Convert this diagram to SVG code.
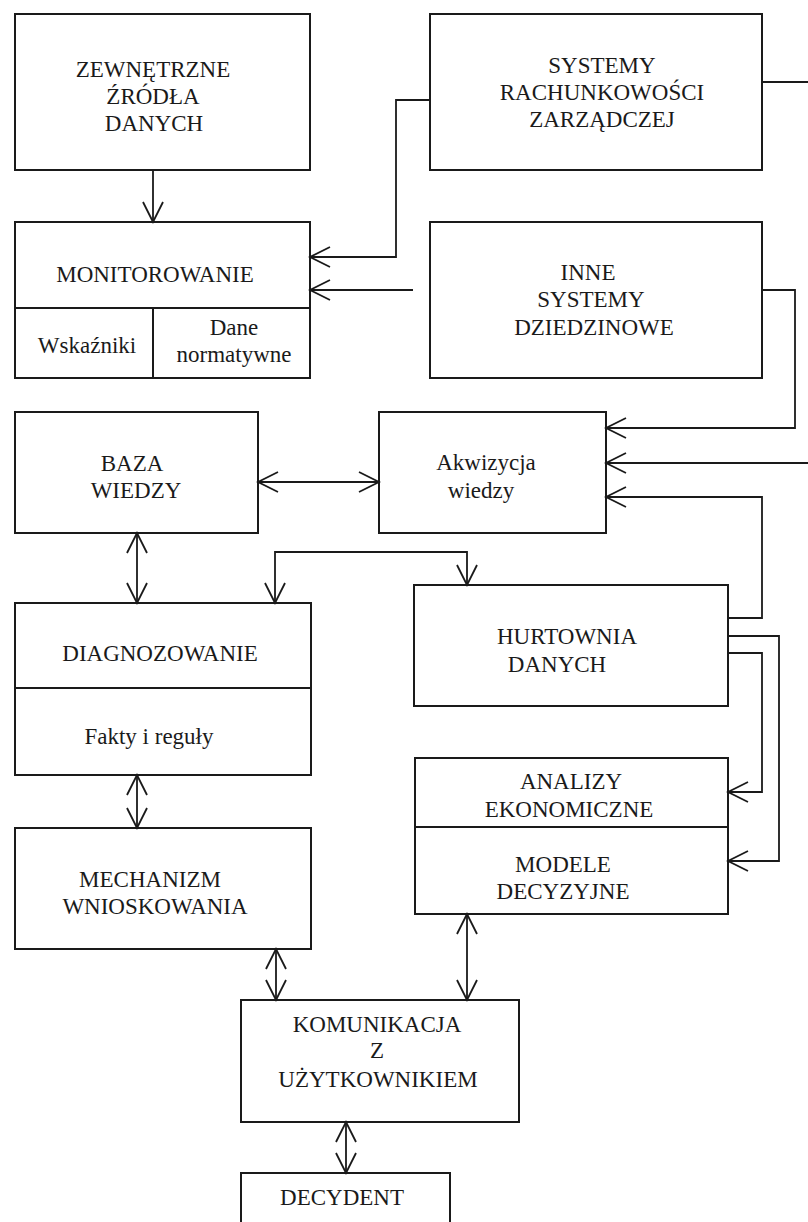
<svg xmlns="http://www.w3.org/2000/svg" width="808" height="1222" viewBox="0 0 808 1222" font-family="Liberation Serif, Times New Roman, DejaVu Serif, serif">
<style>
.box{fill:#fff;stroke:#1a1a1a;stroke-width:2}
.div{fill:none;stroke:#1a1a1a;stroke-width:2}
.t{font-size:23px;fill:#1a1a1a;text-anchor:middle}
.c{fill:none;stroke:#1a1a1a;stroke-width:1.8}
.one{marker-end:url(#ah)}
.two{marker-start:url(#ah);marker-end:url(#ah)}
</style>
<defs>
<marker id="ah" viewBox="-23 -12 25 24" refX="0" refY="0" markerWidth="25" markerHeight="24" markerUnits="userSpaceOnUse" orient="auto-start-reverse">
<path d="M-20,-10 L0,0 L-20,10" fill="none" stroke="#1a1a1a" stroke-width="1.8"/>
</marker>
</defs>
<rect width="808" height="1222" fill="#fff"/>

<g id="zewnetrzne">
<rect class="box" x="15" y="14" width="295" height="156"/>
<text class="t" x="153" y="77" font-family="Liberation Serif, serif">ZEWNĘTRZNE</text>
<text class="t" x="153" y="104">ŹRÓDŁA</text>
<text class="t" x="154" y="131">DANYCH</text>
</g>

<g id="systemy-rachunkowosci">
<rect class="box" x="430" y="14" width="332" height="156"/>
<text class="t" x="602" y="73">SYSTEMY</text>
<text class="t" x="602" y="100">RACHUNKOWOŚCI</text>
<text class="t" x="602" y="127">ZARZĄDCZEJ</text>
</g>

<g id="monitorowanie">
<rect class="box" x="15" y="222" width="295" height="156"/>
<line class="div" x1="15" y1="308" x2="310" y2="308"/>
<line class="div" x1="153" y1="308" x2="153" y2="378"/>
<text class="t" x="155" y="282">MONITOROWANIE</text>
<text class="t" x="87" y="353">Wskaźniki</text>
<text class="t" x="234" y="335">Dane</text>
<text class="t" x="234" y="362">normatywne</text>
</g>

<g id="inne-systemy">
<rect class="box" x="430" y="222" width="332" height="156"/>
<text class="t" x="588" y="280">INNE</text>
<text class="t" x="591" y="307">SYSTEMY</text>
<text class="t" x="594" y="335">DZIEDZINOWE</text>
</g>

<g id="baza-wiedzy">
<rect class="box" x="15" y="412" width="243" height="121"/>
<text class="t" x="132" y="471">BAZA</text>
<text class="t" x="136" y="498">WIEDZY</text>
</g>

<g id="akwizycja">
<rect class="box" x="379" y="412" width="227" height="121"/>
<text class="t" x="486" y="470">Akwizycja</text>
<text class="t" x="481" y="498">wiedzy</text>
</g>

<g id="diagnozowanie">
<rect class="box" x="15" y="603" width="296" height="172"/>
<line class="div" x1="15" y1="688" x2="311" y2="688"/>
<text class="t" x="160" y="661">DIAGNOZOWANIE</text>
<text class="t" x="149" y="744">Fakty i reguły</text>
</g>

<g id="hurtownia">
<rect class="box" x="414" y="585" width="314" height="121"/>
<text class="t" x="567" y="644">HURTOWNIA</text>
<text class="t" x="557" y="672">DANYCH</text>
</g>

<g id="analizy">
<rect class="box" x="415" y="758" width="313" height="156"/>
<line class="div" x1="415" y1="827" x2="728" y2="827"/>
<text class="t" x="571" y="789">ANALIZY</text>
<text class="t" x="569" y="817">EKONOMICZNE</text>
<text class="t" x="563" y="872">MODELE</text>
<text class="t" x="563" y="899">DECYZYJNE</text>
</g>

<g id="mechanizm">
<rect class="box" x="15" y="828" width="296" height="121"/>
<text class="t" x="150" y="887">MECHANIZM</text>
<text class="t" x="155" y="914">WNIOSKOWANIA</text>
</g>

<g id="komunikacja">
<rect class="box" x="241" y="1000" width="278" height="122"/>
<text class="t" x="377" y="1032">KOMUNIKACJA</text>
<text class="t" x="377" y="1058">Z</text>
<text class="t" x="378" y="1087">UŻYTKOWNIKIEM</text>
</g>

<g id="decydent">
<rect class="box" x="241" y="1173" width="209" height="80"/>
<text class="t" x="342" y="1205">DECYDENT</text>
</g>

<g id="connectors">
<path class="c one" d="M153,170 V222"/>
<path class="c one" d="M430,100 H396 V257 H310"/>
<path class="c one" d="M413,290 H310"/>
<path class="c" d="M762,82 H808"/>
<path class="c one" d="M762,290 H795 V428 H606"/>
<path class="c one" d="M808,463 H606"/>
<path class="c one" d="M728,618 H762 V497 H606"/>
<path class="c two" d="M258,482 H379"/>
<path class="c two" d="M137,533 V603"/>
<path class="c two" d="M275,603 V552 H467 V585"/>
<path class="c one" d="M728,653 H762 V792 H728"/>
<path class="c one" d="M728,636 H779 V861 H728"/>
<path class="c two" d="M137,775 V828"/>
<path class="c two" d="M276,949 V1000"/>
<path class="c two" d="M467,914 V1000"/>
<path class="c two" d="M346,1122 V1173"/>
</g>
</svg>
